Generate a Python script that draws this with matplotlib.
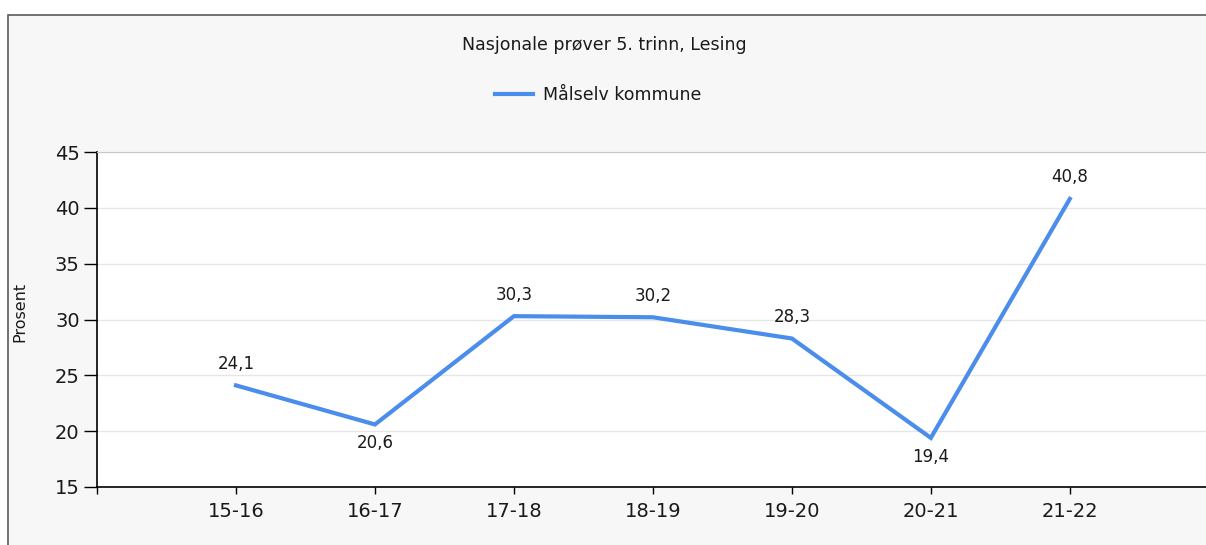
import matplotlib
matplotlib.use("Agg")
import matplotlib.pyplot as plt
from matplotlib.patches import Rectangle
from matplotlib.lines import Line2D

categories = ["15-16", "16-17", "17-18", "18-19", "19-20", "20-21", "21-22"]
values = [24.1, 20.6, 30.3, 30.2, 28.3, 19.4, 40.8]
label_pos = ["above", "below", "above", "above", "above", "below", "above"]
series_name = "Målselv kommune"
title = "Nasjonale prøver 5. trinn, Lesing"
ylabel = "Prosent"

W, H = 1206, 545
fig = plt.figure(figsize=(W / 100, H / 100), dpi=100)
fig.patch.set_facecolor("white")

# outer chart frame
fig.patches.append(Rectangle((8 / W, -0.05), 1.1, 1 - 15 / H + 0.05,
                             transform=fig.transFigure, facecolor="#f7f7f7",
                             edgecolor="#5a5a5a", linewidth=1.2, zorder=-10))

left, right, top, bottom = 97 / W, 1.0, 152 / H, 487 / H
ax = fig.add_axes([left, 1 - bottom, right - left, bottom - top])
ax.set_zorder(1)
ax.set_facecolor("white")

x = list(range(1, len(categories) + 1))
color = "#4a8deb"
ax.plot(x, values, color=color, linewidth=3.0, solid_joinstyle="miter", zorder=3)

for xi, v, pos in zip(x, values, label_pos):
    txt = f"{v:.1f}".replace(".", ",")
    if pos == "above":
        ax.annotate(txt, (xi, v), xytext=(0, 9), textcoords="offset points",
                    ha="center", va="bottom", fontsize=12, color="#1a1a1a")
    else:
        ax.annotate(txt, (xi, v), xytext=(0, -7), textcoords="offset points",
                    ha="center", va="top", fontsize=12, color="#1a1a1a")

ax.set_xlim(0, 7.98)
ax.set_ylim(15, 45)
ax.set_yticks(range(15, 46, 5))
ax.set_xticks([0] + x)
ax.set_xticklabels([""] + categories)
ax.tick_params(axis="both", labelsize=14, width=1, colors="black",
               labelcolor="#1a1a1a")
ax.tick_params(axis="y", length=9.5, pad=3)
ax.tick_params(axis="x", length=5, pad=6)
ax.grid(axis="y", color="#e6e6e6", linewidth=1)
ax.set_axisbelow(True)
ax.spines["right"].set_visible(False)
ax.spines["top"].set_color("#c8c8c8")
ax.spines["left"].set_color("black")
ax.spines["bottom"].set_color("black")
ax.spines["left"].set_linewidth(1.2)
ax.spines["bottom"].set_linewidth(1.2)

fig.text(20 / W, 1 - 312 / H, ylabel, rotation=90, ha="center", va="center",
         fontsize=11.5, color="#1a1a1a")

fig.text(604 / W, 1 - 45 / H, title, ha="center", va="center",
         fontsize=12.5, color="#1a1a1a")

handle = Line2D([], [], color=color, linewidth=3.0)
fig.legend([handle], [series_name], loc="center", bbox_to_anchor=(598 / W, 1 - 95 / H),
           frameon=False, fontsize=12.5, handlelength=2.2, handletextpad=0.6,
           labelcolor="#1a1a1a")

fig.savefig("out.png", dpi=100, facecolor=fig.get_facecolor())
